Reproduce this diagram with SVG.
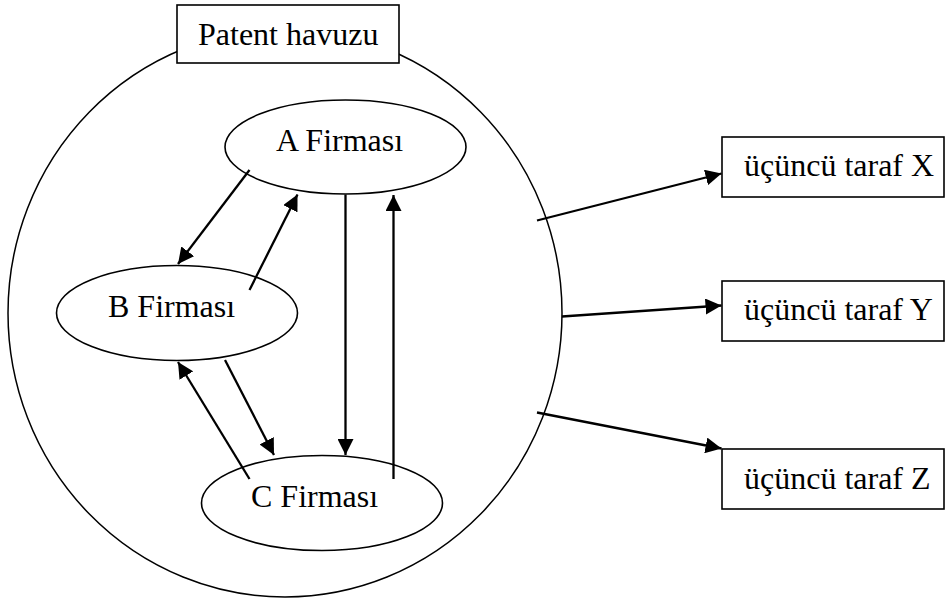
<svg xmlns="http://www.w3.org/2000/svg" width="946" height="607" viewBox="0 0 946 607">
<style>
.shape{fill:#fff;stroke:#000;stroke-width:1.6}
.lbl{font-family:"Liberation Serif","Times New Roman",serif;font-size:32px;fill:#000}
.conn line{stroke:#000;stroke-width:2.3}
</style>
<defs>
<marker id="ah" markerUnits="userSpaceOnUse" markerWidth="18" markerHeight="16" refX="16" refY="8" orient="auto">
<path d="M0,0 L16,8 L0,16 z" fill="#000"/>
</marker>
</defs>
<g id="pool">
<ellipse cx="285" cy="313" rx="277" ry="284" class="shape" style="stroke-width:1.5"/>
</g>
<g id="patent-havuzu">
<rect x="177" y="5" width="222" height="58" class="shape"/>
<text x="198" y="45" class="lbl">Patent havuzu</text>
</g>
<g id="firma-a">
<ellipse cx="345.5" cy="147" rx="120.5" ry="47" class="shape"/>
<text x="276" y="151" class="lbl">A Firması</text>
</g>
<g id="firma-b">
<ellipse cx="177" cy="313" rx="120.5" ry="47.5" class="shape"/>
<text x="108" y="317" class="lbl">B Firması</text>
</g>
<g id="firma-c">
<ellipse cx="322" cy="503" rx="120.5" ry="47.5" class="shape"/>
<text x="251" y="507" class="lbl">C Firması</text>
</g>
<g id="taraf-x">
<rect x="722" y="137" width="222" height="60" class="shape"/>
<text x="744" y="176" class="lbl">üçüncü taraf X</text>
</g>
<g id="taraf-y">
<rect x="722" y="281" width="222" height="60" class="shape"/>
<text x="744" y="320" class="lbl">üçüncü taraf Y</text>
</g>
<g id="taraf-z">
<rect x="722" y="449" width="222" height="60" class="shape"/>
<text x="744" y="489" class="lbl">üçüncü taraf Z</text>
</g>
<g id="connectors" class="conn">
<line x1="249.5" y1="170" x2="178" y2="264" marker-end="url(#ah)"/>
<line x1="249.5" y1="290" x2="297.5" y2="194.5" marker-end="url(#ah)"/>
<line x1="345.5" y1="194.5" x2="345.5" y2="455" marker-end="url(#ah)"/>
<line x1="393.5" y1="479" x2="393.5" y2="195" marker-end="url(#ah)"/>
<line x1="225" y1="360" x2="274" y2="455" marker-end="url(#ah)"/>
<line x1="249.5" y1="479" x2="178" y2="362" marker-end="url(#ah)"/>
<line x1="537" y1="220.5" x2="721.5" y2="173.5" marker-end="url(#ah)"/>
<line x1="562" y1="316.5" x2="721.5" y2="305.5" marker-end="url(#ah)"/>
<line x1="537" y1="412.5" x2="721.5" y2="448.5" marker-end="url(#ah)"/>
</g>
</svg>
